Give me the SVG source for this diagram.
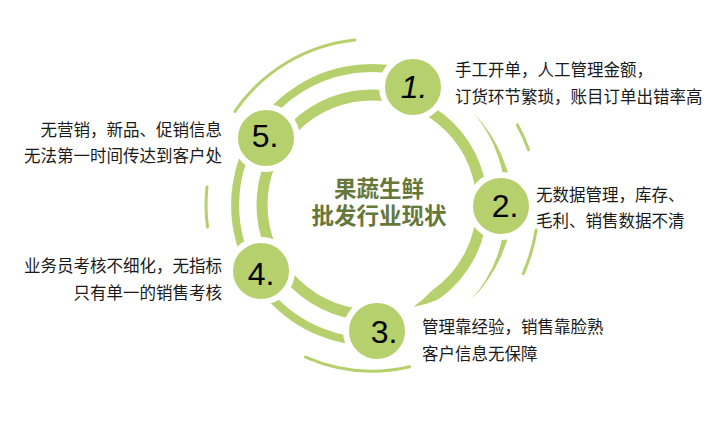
<svg xmlns="http://www.w3.org/2000/svg" width="728" height="427" viewBox="0 0 728 427">
<style>
.ring{fill:none;stroke:#b5d06c}
.r1{stroke-width:11}
.r2{stroke-width:8}
.r3{stroke-width:3;stroke-linecap:round}
.fill{fill:#b5d06c;stroke:none}
.dot{fill:#b5d06c;stroke:#fff;stroke-width:6}
.num{font-family:"Liberation Sans",Arial,sans-serif;font-size:32px;fill:#000;text-anchor:middle}
.desc{font-family:"Noto Sans CJK SC",sans-serif;font-size:16.5px;fill:#1a1a1a}
.end{text-anchor:end}
.title{font-family:"Noto Sans CJK SC",sans-serif;font-size:22.5px;font-weight:bold;fill:#66773a;text-anchor:middle}
</style>
<rect width="728" height="427" fill="#fff"/>
<g id="connectors">
<path class="ring r1" d="M376.4,314.9 A110,110 0 0 1 262,205 A110,110 0 0 1 372,95 A110,110 0 0 1 482,205 A110,110 0 0 1 435.1,295.1"/>
<path class="fill" d="M438.2,299.6 A115.5,115.5 0 0 1 413.2,307 A104.5,104.5 0 0 0 431.9,290.6 Z"/>
<path class="ring r2" d="M377.5,341.9 A137,137 0 1 1 417.1,75.6"/>
<path class="fill" d="M473.8,113.3 A141,141 0 0 1 513,206 L505,205.9 A133,133 0 0 0 473.8,113.3 Z"/>
<path class="fill" d="M513,206 A141,141 0 0 1 470.5,300.2 A133,133 0 0 0 505,205.9 Z"/>
<path class="ring r3" d="M234.9,111.5 A166,166 0 0 1 354.9,39.9"/>
<path class="ring r3" d="M517.3,124.8 A166,166 0 0 1 528.6,149.9"/>
<path class="ring r3" d="M536.1,230.1 A166,166 0 0 1 523.2,273.6"/>
<path class="ring r3" d="M409.6,366.7 A166,166 0 0 1 305.5,357.1"/>
<path class="ring r3" d="M207.5,227 A166,166 0 0 1 207,187.1"/>
</g>
<g id="node-center">
<text class="title" x="379" y="197">果蔬生鲜</text>
<text class="title" x="379" y="224">批发行业现状</text>
</g>
<g id="node-1">
<circle class="dot" cx="413" cy="87" r="31"/>
<text class="num" x="414" y="98" font-style="italic">1.</text>
<text class="desc" x="455" y="76">手工开单，人工管理金额，</text>
<text class="desc" x="455" y="103">订货环节繁琐，账目订单出错率高</text>
</g>
<g id="node-2">
<circle class="dot" cx="501" cy="206" r="31"/>
<text class="num" x="505" y="217">2.</text>
<text class="desc" x="536" y="201">无数据管理，库存、</text>
<text class="desc" x="536" y="227">毛利、销售数据不清</text>
</g>
<g id="node-3">
<circle class="dot" cx="377" cy="331" r="31"/>
<text class="num" x="384" y="343">3.</text>
<text class="desc" x="422" y="333">管理靠经验，销售靠脸熟</text>
<text class="desc" x="422" y="360">客户信息无保障</text>
</g>
<g id="node-4">
<circle class="dot" cx="261" cy="271" r="31"/>
<text class="num" x="261" y="285">4.</text>
<text class="desc end" x="222" y="272">业务员考核不细化，无指标</text>
<text class="desc end" x="222" y="299">只有单一的销售考核</text>
</g>
<g id="node-5">
<circle class="dot" cx="266" cy="138" r="31"/>
<text class="num" x="265" y="147">5.</text>
<text class="desc end" x="222" y="136">无营销，新品、促销信息</text>
<text class="desc end" x="222" y="162">无法第一时间传达到客户处</text>
</g>
</svg>
